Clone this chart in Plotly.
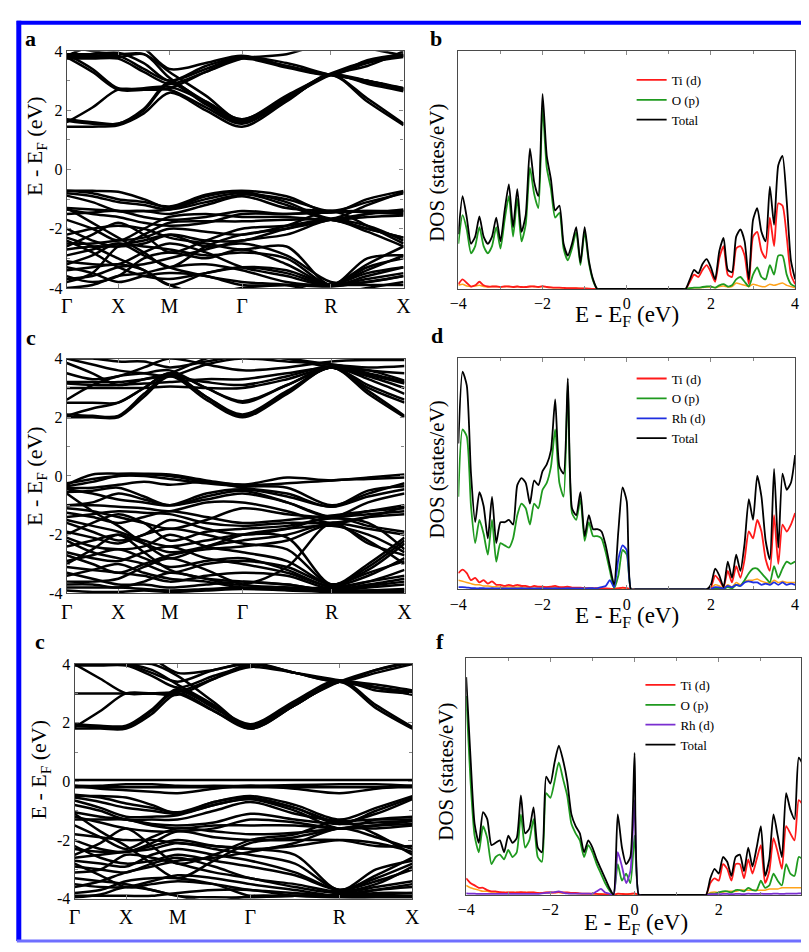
import plotly.graph_objects as go

W, H = 809, 952

# ---------------- band-structure data ----------------
K_POS = [0.0, 0.25, 0.5, 0.75, 1.0, 1.354, 1.707, 2.140, 2.573, 2.927, 3.280]
K_TICKS = [0.0, 0.5, 1.0, 1.707, 2.573, 3.280]
K_LABELS = ["Γ", "X", "M", "Γ", "R", "X"]

BANDS_A = [
    [1.45, 1.45, 1.5, 1.9, 2.6, 2.0, 1.45, 2.3, 3.2, 2.3, 1.5],
    [1.6, 2.1, 2.7, 2.7, 2.7, 2.1, 1.55, 2.35, 3.2, 2.9, 2.65],
    [1.65, 1.55, 1.55, 2.0, 2.9, 2.2, 1.6, 2.35, 3.2, 2.95, 2.75],
    [1.7, 1.6, 1.55, 2.05, 2.95, 2.25, 1.65, 2.4, 3.2, 2.4, 1.55],
    [3.8, 3.3, 2.7, 2.7, 2.75, 3.3, 3.75, 3.45, 3.2, 3.6, 3.8],
    [3.8, 3.8, 3.8, 3.9, 3.1, 2.3, 1.7, 2.45, 3.2, 3.0, 2.7],
    [3.9, 3.9, 3.95, 3.6, 3.0, 3.5, 3.8, 3.5, 3.2, 3.7, 3.9],
    [3.75, 3.75, 3.75, 3.3, 2.9, 3.3, 3.75, 3.9, 4.3, 4.1, 3.85],
    [4.2, 4.0, 3.9, 3.9, 3.3, 2.5, 1.65, 2.4, 3.2, 3.5, 4.0],
    [3.85, 4.2, 4.5, 4.1, 3.4, 3.6, 3.85, 3.5, 3.2, 3.0, 2.75],
    [3.85, 3.85, 3.85, 3.4, 3.0, 3.4, 3.8, 3.6, 3.2, 3.0, 2.7],
    [3.9, 3.4, 2.75, 2.75, 2.8, 2.3, 1.7, 2.5, 3.25, 3.65, 3.85],
    [-0.72, -0.8, -1.0, -1.1, -1.25, -0.85, -0.72, -0.9, -1.45, -1.0, -0.72],
    [-0.72, -0.72, -0.75, -1.0, -1.3, -0.9, -0.75, -1.1, -1.65, -1.2, -0.75],
    [-0.8, -0.9, -1.1, -1.2, -1.35, -1.1, -0.85, -1.0, -1.4, -1.1, -0.8],
    [-0.88, -1.1, -1.4, -1.4, -1.35, -1.0, -0.8, -1.2, -1.7, -1.5, -1.35],
    [-1.3, -1.35, -1.4, -1.4, -1.5, -1.2, -0.9, -1.3, -1.4, -1.4, -1.4],
    [-1.35, -1.5, -1.6, -1.8, -1.9, -1.8, -1.5, -1.5, -1.45, -1.4, -1.45],
    [-1.5, -1.45, -1.4, -1.6, -1.7, -1.6, -1.4, -1.5, -1.4, -1.45, -1.5],
    [-1.7, -2.0, -2.4, -2.0, -1.6, -1.5, -1.6, -1.6, -1.7, -1.6, -1.55],
    [-2.0, -2.4, -2.6, -2.2, -1.8, -1.75, -1.75, -1.7, -1.7, -2.0, -2.3],
    [-2.2, -2.0, -1.9, -2.0, -2.3, -2.5, -2.7, -2.6, -3.9, -3.0, -2.9],
    [-2.5, -2.5, -2.4, -2.3, -2.0, -2.1, -2.2, -1.9, -1.4, -1.9, -2.5],
    [-2.7, -2.6, -2.6, -2.5, -2.2, -2.4, -2.4, -2.0, -1.7, -2.1, -2.6],
    [-2.9, -2.7, -2.5, -2.6, -2.7, -2.9, -2.8, -3.0, -3.9, -3.3, -3.0],
    [-3.1, -3.2, -3.2, -2.8, -2.5, -2.8, -3.3, -3.6, -3.9, -3.2, -2.6],
    [-3.3, -3.5, -3.8, -3.6, -3.5, -3.6, -3.9, -3.9, -3.95, -3.8, -3.6],
    [-3.4, -3.3, -3.2, -3.4, -3.9, -3.5, -3.3, -3.5, -3.9, -3.4, -2.9],
    [-3.6, -3.8, -3.6, -3.0, -2.8, -3.0, -2.7, -3.2, -3.9, -3.6, -3.3],
    [-3.7, -3.6, -3.3, -3.2, -3.0, -2.7, -2.4, -2.2, -1.7, -1.9, -2.4],
    [-3.8, -3.5, -2.6, -2.4, -2.2, -2.6, -2.5, -2.9, -3.8, -3.8, -3.6],
    [-2.3, -2.6, -3.0, -3.4, -3.9, -4.2, -4.0, -3.9, -3.9, -3.9, -3.9],
    [-2.4, -2.8, -3.3, -3.6, -3.7, -3.5, -3.3, -3.4, -3.9, -3.7, -3.5],
    [-3.2, -2.9, -2.5, -2.9, -3.3, -3.6, -3.8, -3.9, -4.2, -4.0, -3.8],
    [-4.0, -3.9, -3.6, -3.5, -3.3, -3.2, -3.4, -3.8, -3.9, -3.5, -3.3],
    [-1.3, -1.8, -2.3, -2.8, -3.3, -2.6, -2.2, -2.0, -1.7, -1.5, -1.4],
    [-2.6, -2.2, -1.8, -2.2, -2.8, -2.4, -2.0, -1.9, -1.7, -2.0, -2.3],
]

BANDS_C = [
    [2.0, 2.0, 2.0, 2.7, 3.4, 2.6, 2.0, 2.8, 3.7, 2.8, 2.0],
    [2.05, 2.3, 2.5, 3.0, 3.5, 2.7, 2.05, 2.85, 3.7, 3.0, 2.5],
    [2.1, 2.05, 2.05, 2.8, 3.45, 2.7, 2.1, 2.9, 3.7, 2.9, 2.05],
    [2.5, 2.5, 2.5, 3.0, 3.5, 3.0, 2.5, 3.1, 3.7, 3.1, 2.6],
    [2.6, 3.1, 3.4, 3.5, 3.6, 3.0, 2.55, 3.1, 3.7, 3.3, 2.8],
    [3.0, 3.0, 3.0, 3.0, 3.05, 3.0, 3.0, 3.3, 3.7, 3.4, 3.0],
    [3.15, 3.1, 3.1, 3.15, 3.2, 3.3, 3.3, 3.5, 3.7, 3.45, 3.15],
    [3.2, 3.2, 3.2, 3.3, 3.4, 3.2, 3.1, 3.4, 3.75, 3.5, 3.2],
    [3.85, 3.5, 3.1, 3.3, 3.5, 4.0, 4.2, 4.0, 3.7, 3.6, 3.25],
    [4.0, 3.8, 3.6, 3.5, 3.4, 3.8, 4.0, 3.9, 3.8, 3.6, 3.5],
    [4.0, 4.0, 3.9, 3.9, 3.7, 3.9, 4.1, 4.0, 3.8, 3.7, 3.75],
    [3.5, 3.3, 3.4, 3.7, 4.0, 3.8, 3.6, 3.7, 3.9, 3.95, 3.95],
    [-0.3, 0.05, 0.08, 0.08, 0.05, -0.15, -0.3, -0.05, -0.15, -0.05, 0.05],
    [-0.25, -0.1, 0.0, 0.05, 0.0, -0.2, -0.3, -0.25, -0.15, -0.1, -0.05],
    [-0.35, -0.2, 0.0, 0.0, -0.1, -0.25, -0.35, -0.4, -1.0, -0.6, -0.25],
    [-0.4, -0.4, -0.3, -0.2, -0.3, -0.2, -0.4, -0.6, -1.05, -0.5, -0.35],
    [-0.45, -0.6, -0.8, -0.9, -1.0, -0.6, -0.45, -0.7, -1.05, -0.7, -0.45],
    [-0.55, -0.5, -0.4, -0.7, -1.0, -0.7, -0.5, -0.9, -1.4, -0.9, -0.6],
    [-1.0, -0.9, -0.6, -0.8, -1.0, -0.8, -0.6, -0.9, -1.4, -1.2, -1.0],
    [-1.0, -1.0, -1.05, -1.1, -1.2, -0.9, -0.9, -1.2, -1.6, -1.4, -1.05],
    [-1.1, -1.2, -1.4, -1.6, -1.8, -1.5, -1.1, -1.3, -1.4, -1.3, -1.2],
    [-1.25, -1.4, -1.6, -1.4, -1.2, -1.4, -1.6, -1.5, -1.35, -1.2, -1.1],
    [-1.4, -1.3, -1.2, -1.25, -1.3, -1.6, -1.7, -1.6, -1.6, -1.4, -1.3],
    [-1.5, -1.7, -1.9, -2.2, -2.4, -2.2, -2.0, -2.1, -3.7, -3.1, -2.2],
    [-1.6, -1.9, -2.2, -2.0, -1.5, -1.8, -2.0, -1.8, -1.4, -1.7, -1.9],
    [-1.9, -2.1, -2.3, -2.0, -1.8, -2.0, -2.3, -2.5, -3.7, -3.0, -2.1],
    [-2.1, -2.4, -2.5, -2.4, -2.0, -2.4, -2.6, -2.9, -3.7, -3.2, -2.3],
    [-2.2, -2.6, -2.8, -3.0, -3.3, -3.0, -2.9, -3.1, -3.7, -3.3, -2.9],
    [-2.4, -2.2, -2.0, -2.3, -2.6, -2.4, -2.0, -1.8, -1.7, -2.0, -2.6],
    [-2.6, -2.8, -2.9, -2.6, -2.4, -2.8, -3.0, -3.3, -3.75, -3.4, -2.8],
    [-2.7, -3.0, -3.3, -3.0, -2.7, -2.5, -2.4, -2.2, -1.65, -2.2, -3.0],
    [-2.9, -2.7, -2.5, -2.8, -3.1, -2.9, -2.8, -3.2, -3.8, -3.6, -3.2],
    [-3.1, -3.2, -3.3, -3.4, -3.6, -3.4, -3.3, -3.4, -3.85, -3.7, -3.5],
    [-3.3, -3.5, -3.7, -3.7, -3.8, -3.7, -3.6, -3.7, -3.9, -3.8, -3.7],
    [-3.4, -3.2, -3.0, -3.3, -3.5, -3.6, -3.8, -3.8, -3.8, -3.6, -3.4],
    [-3.6, -3.6, -3.5, -3.1, -2.8, -3.2, -3.7, -3.8, -3.95, -3.9, -3.85],
    [-3.7, -3.7, -3.8, -3.6, -3.3, -3.5, -3.6, -3.7, -3.9, -3.75, -3.6],
    [-3.8, -3.8, -3.8, -3.85, -3.9, -3.85, -3.8, -3.85, -3.9, -3.9, -3.9],
    [-3.9, -3.95, -3.95, -3.9, -3.95, -3.9, -3.85, -3.9, -3.95, -3.95, -3.95],
    [-0.6, -1.2, -1.7, -2.3, -2.8, -2.4, -2.2, -2.0, -1.6, -1.8, -2.0],
    [-2.0, -1.6, -1.3, -1.6, -2.2, -1.9, -1.8, -1.7, -1.45, -1.6, -2.5],
    [-3.0, -2.5, -2.0, -2.6, -3.2, -3.5, -3.7, -3.1, -1.6, -2.3, -2.7],
]

BANDS_E = [
    [1.8, 1.8, 1.8, 2.3, 3.0, 2.4, 1.8, 2.6, 3.4, 2.5, 1.8],
    [1.85, 2.4, 3.0, 3.0, 3.0, 2.4, 1.85, 2.6, 3.4, 3.1, 3.0],
    [1.9, 1.85, 1.85, 2.4, 3.1, 2.5, 1.9, 2.7, 3.4, 3.2, 3.0],
    [1.95, 1.9, 1.9, 2.45, 3.15, 2.55, 1.95, 2.75, 3.45, 2.6, 1.85],
    [3.0, 3.0, 3.0, 3.0, 3.05, 3.5, 3.9, 3.7, 3.45, 3.3, 3.1],
    [4.0, 3.5, 3.0, 3.0, 2.95, 3.5, 4.0, 3.7, 3.4, 3.7, 4.0],
    [4.0, 4.0, 4.0, 3.8, 3.3, 2.6, 1.8, 2.6, 3.4, 3.2, 2.95],
    [4.05, 4.0, 4.0, 3.7, 3.4, 3.8, 4.0, 3.7, 3.4, 3.8, 4.05],
    [3.95, 3.95, 3.95, 3.6, 3.2, 3.6, 3.95, 4.2, 4.4, 4.2, 4.0],
    [4.3, 4.1, 4.0, 4.0, 3.6, 2.7, 1.85, 2.65, 3.4, 3.8, 4.1],
    [4.1, 4.3, 4.5, 4.2, 3.7, 3.8, 4.05, 3.7, 3.4, 3.2, 3.05],
    [0.05, 0.05, 0.05, 0.05, 0.05, 0.05, 0.05, 0.05, 0.05, 0.05, 0.05],
    [-0.15, -0.15, -0.1, -0.1, -0.15, -0.15, -0.15, -0.12, -0.1, -0.1, -0.15],
    [-0.15, -0.25, -0.3, -0.35, -0.4, -0.25, -0.15, -0.25, -0.4, -0.25, -0.15],
    [-0.2, -0.2, -0.2, -0.2, -0.2, -0.2, -0.2, -0.2, -0.2, -0.2, -0.2],
    [-0.45, -0.55, -0.75, -0.9, -1.05, -0.7, -0.5, -0.8, -1.3, -0.9, -0.5],
    [-0.5, -0.5, -0.55, -0.8, -1.1, -0.7, -0.55, -0.9, -1.45, -1.0, -0.55],
    [-0.55, -0.7, -0.9, -1.0, -1.1, -0.8, -0.6, -0.9, -1.4, -1.1, -0.6],
    [-0.65, -0.9, -1.2, -1.2, -1.15, -0.8, -0.6, -1.0, -1.6, -1.3, -1.2],
    [-0.8, -1.0, -1.3, -1.3, -1.3, -1.0, -0.7, -1.1, -1.35, -1.3, -1.3],
    [-1.05, -1.2, -1.3, -1.45, -1.5, -1.4, -1.1, -1.3, -1.45, -1.4, -1.35],
    [-1.2, -1.4, -1.6, -1.7, -1.7, -1.6, -1.3, -1.4, -1.6, -1.5, -1.3],
    [-1.3, -1.3, -1.3, -1.5, -1.6, -1.5, -1.5, -1.5, -1.6, -1.5, -1.45],
    [-1.5, -1.9, -2.3, -1.9, -1.6, -1.7, -1.8, -1.75, -1.6, -1.6, -1.5],
    [-1.8, -1.9, -2.0, -2.0, -2.1, -2.2, -2.3, -2.5, -3.7, -3.0, -2.7],
    [-2.0, -2.3, -2.4, -2.1, -1.7, -1.9, -2.0, -2.0, -2.0, -2.2, -2.2],
    [-2.2, -2.6, -2.8, -2.7, -2.5, -2.7, -2.9, -3.2, -3.7, -3.4, -3.0],
    [-2.3, -2.4, -2.4, -2.2, -2.0, -2.2, -2.3, -2.2, -2.0, -2.1, -2.4],
    [-2.6, -2.5, -2.4, -2.3, -2.1, -2.3, -2.5, -2.8, -3.7, -3.2, -2.6],
    [-2.7, -2.8, -2.9, -2.5, -2.3, -2.5, -2.7, -3.1, -3.7, -3.3, -2.8],
    [-2.8, -3.2, -3.6, -3.5, -3.4, -3.5, -3.7, -3.8, -3.9, -3.7, -3.5],
    [-2.9, -3.0, -3.1, -2.8, -2.6, -2.9, -3.3, -3.5, -3.75, -3.5, -2.9],
    [-3.1, -3.0, -2.5, -2.6, -2.8, -3.1, -3.3, -3.6, -3.8, -3.6, -3.4],
    [-3.3, -3.4, -3.5, -3.7, -3.9, -4.1, -3.9, -3.9, -3.85, -3.7, -3.6],
    [-3.5, -3.6, -3.6, -3.4, -3.2, -3.3, -3.5, -3.7, -3.9, -3.8, -3.8],
    [-3.6, -3.4, -3.1, -2.9, -2.7, -2.6, -2.4, -2.1, -1.6, -1.9, -2.3],
    [-3.8, -3.7, -3.4, -3.3, -3.3, -3.5, -3.9, -3.9, -3.9, -3.9, -3.9],
    [-3.9, -3.9, -3.9, -3.9, -3.8, -3.7, -3.7, -3.9, -3.95, -3.95, -3.95],
    [-3.95, -3.85, -3.6, -3.7, -3.9, -3.95, -3.95, -3.9, -3.9, -3.85, -3.8],
    [-1.1, -1.7, -2.2, -2.8, -3.3, -2.7, -2.1, -1.9, -1.6, -1.5, -1.35],
    [-2.5, -2.1, -1.6, -2.2, -2.8, -2.5, -2.0, -1.8, -1.35, -1.8, -2.5],
]

# ---------------- DOS data (energy grid, eV) ----------------
ENERGY = [
    -4.0, -3.9, -3.8, -3.7, -3.6, -3.5, -3.4, -3.3, -3.2, -3.1,
    -3.0, -2.9, -2.8, -2.7, -2.6, -2.5, -2.4, -2.3, -2.2, -2.1,
    -2.0, -1.9, -1.8, -1.7, -1.6, -1.5, -1.4, -1.3, -1.2, -1.1,
    -1.0, -0.9, -0.8, -0.7, -0.6, -0.5, -0.4, -0.3, -0.2, -0.1,
    0.0, 0.1, 0.2, 0.3, 0.4, 0.5, 0.6, 0.7, 0.8, 0.9,
    1.0, 1.1, 1.2, 1.3, 1.4, 1.5, 1.6, 1.7, 1.8, 1.9,
    2.0, 2.1, 2.2, 2.3, 2.4, 2.5, 2.6, 2.7, 2.8, 2.9,
    3.0, 3.1, 3.2, 3.3, 3.4, 3.5, 3.6, 3.7, 3.8, 3.9,
    4.0,
]

TOT_B = [
    2.3, 3.9, 3.0, 1.9, 2.2, 3.05, 2.2, 1.9, 2.2, 3.0,
    2.0, 3.3, 4.4, 2.6, 4.2, 2.4, 3.1, 5.9, 4.5, 3.9,
    8.2, 5.6, 4.6, 3.3, 3.5, 1.9, 1.4, 1.9, 2.6, 1.1,
    2.6, 1.2, 0.4, 0.0, 0, 0, 0, 0, 0, 0,
    0, 0, 0, 0, 0, 0, 0, 0, 0, 0,
    0, 0, 0, 0, 0, 0.4, 0.8, 0.65, 1.05, 1.25,
    0.9, 0.4, 1.6, 2.15, 0.8, 0.7, 2.2, 2.5, 2.0, 0.4,
    2.9, 3.4, 2.4, 2.0, 4.3, 2.7, 5.2, 5.6, 3.7, 1.2,
    0.4,
]
O_B = [
    1.9, 3.1, 2.5, 1.5, 1.8, 2.6, 1.8, 1.5, 1.8, 2.6,
    1.7, 2.9, 3.9, 2.2, 3.8, 2.0, 2.7, 5.1, 4.0, 3.4,
    7.6, 5.1, 4.2, 3.0, 3.2, 1.7, 1.2, 1.7, 2.4, 1.0,
    2.4, 1.1, 0.35, 0.0, 0, 0, 0, 0, 0, 0,
    0, 0, 0, 0, 0, 0, 0, 0, 0, 0,
    0, 0, 0, 0, 0, 0.03, 0.05, 0.05, 0.08, 0.1,
    0.1, 0.05, 0.15, 0.2, 0.1, 0.15, 0.4, 0.5, 0.3, 0.1,
    0.6, 0.9, 0.5, 0.4, 1.0, 0.6, 1.4, 1.4, 0.6, 0.2,
    0.1,
]
TI_B = [
    0.2, 0.4, 0.25, 0.1, 0.15, 0.3, 0.15, 0.1, 0.1, 0.1,
    0.08, 0.1, 0.1, 0.08, 0.1, 0.08, 0.08, 0.1, 0.1, 0.08,
    0.12, 0.08, 0.06, 0.05, 0.05, 0.04, 0.03, 0.03, 0.03, 0.02,
    0.02, 0.01, 0.0, 0.0, 0, 0, 0, 0, 0, 0,
    0, 0, 0, 0, 0, 0, 0, 0, 0, 0,
    0, 0, 0, 0, 0, 0.3, 0.6, 0.5, 0.8, 1.0,
    0.7, 0.3, 1.3, 1.8, 0.6, 0.5, 1.7, 1.8, 1.4, 0.2,
    2.2, 2.4, 1.6, 1.3, 3.0, 1.8, 3.6, 3.5, 2.2, 0.6,
    0.2,
]
OTHER_B = [
    0.15, 0.2, 0.12, 0.1, 0.12, 0.15, 0.1, 0.08, 0.1, 0.1,
    0.08, 0.1, 0.1, 0.08, 0.1, 0.08, 0.08, 0.1, 0.1, 0.08,
    0.1, 0.08, 0.06, 0.05, 0.05, 0.04, 0.03, 0.03, 0.03, 0.02,
    0.02, 0.01, 0.0, 0.0, 0, 0, 0, 0, 0, 0,
    0, 0, 0, 0, 0, 0, 0, 0, 0, 0,
    0, 0, 0, 0, 0, 0.03, 0.05, 0.05, 0.06, 0.08,
    0.08, 0.05, 0.1, 0.12, 0.08, 0.1, 0.25, 0.2, 0.15, 0.1,
    0.2, 0.15, 0.1, 0.1, 0.2, 0.15, 0.2, 0.25, 0.15, 0.1,
    0.05,
]

TOT_D = [
    6.3, 9.4, 8.8, 5.0, 2.9, 4.2, 3.6, 2.2, 4.0, 2.0,
    2.9, 2.9, 3.0, 2.8, 4.5, 4.8, 4.6, 3.7, 4.7, 4.5,
    5.1, 5.4, 6.0, 8.2, 5.3, 5.0, 9.1, 3.5, 3.2, 4.2,
    2.3, 3.2, 2.6, 2.6, 2.5, 1.9, 1.0, 0.2, 2.5, 4.4,
    3.8, 0.0, 0, 0, 0, 0, 0, 0, 0, 0,
    0, 0, 0, 0, 0, 0, 0, 0, 0, 0,
    0.2, 0.9, 0.6, 0.1, 1.2, 0.5, 1.5, 0.8, 2.0, 3.9,
    3.0, 4.9, 4.0, 2.1, 1.3, 5.2, 1.8, 5.0, 4.3, 4.6,
    5.8,
]
O_D = [
    4.0, 6.9, 6.6, 3.6, 2.0, 3.0, 2.4, 1.5, 3.0, 1.2,
    2.0, 1.9, 1.8, 2.2, 3.2, 3.7, 3.5, 2.8, 3.7, 3.5,
    4.3, 4.6, 5.3, 6.9, 4.6, 4.0, 8.8, 3.3, 3.0, 3.9,
    2.1, 2.9, 2.3, 2.3, 2.2, 1.6, 0.8, 0.05, 0.6, 1.7,
    1.5, 0.0, 0, 0, 0, 0, 0, 0, 0, 0,
    0, 0, 0, 0, 0, 0, 0, 0, 0, 0,
    0.0, 0.05, 0.05, 0.02, 0.1, 0.05, 0.2, 0.15, 0.4, 0.7,
    0.9, 0.9, 0.7, 0.5, 0.3, 1.0, 0.5, 0.9, 1.2, 1.1,
    1.2,
]
TI_D = [
    0.7, 0.85, 0.7, 0.4, 0.5, 0.3, 0.4, 0.25, 0.35, 0.2,
    0.2, 0.15, 0.2, 0.15, 0.2, 0.15, 0.15, 0.1, 0.15, 0.12,
    0.12, 0.1, 0.12, 0.15, 0.1, 0.1, 0.12, 0.08, 0.08, 0.08,
    0.06, 0.06, 0.05, 0.05, 0.04, 0.04, 0.03, 0.02, 0.05, 0.08,
    0.06, 0.0, 0, 0, 0, 0, 0, 0, 0, 0,
    0, 0, 0, 0, 0, 0, 0, 0, 0, 0,
    0.1, 0.6, 0.4, 0.1, 0.8, 0.3, 1.0, 0.5, 1.3, 2.5,
    2.2, 3.0, 2.5, 1.3, 0.8, 3.2, 1.1, 2.8, 2.5, 2.8,
    3.3,
]
RH_D = [
    0.1, 0.1, 0.08, 0.06, 0.05, 0.05, 0.05, 0.04, 0.05, 0.04,
    0.04, 0.04, 0.04, 0.04, 0.04, 0.05, 0.04, 0.04, 0.04, 0.04,
    0.04, 0.04, 0.04, 0.05, 0.04, 0.04, 0.05, 0.04, 0.04, 0.04,
    0.04, 0.05, 0.05, 0.05, 0.1, 0.15, 0.4, 0.1, 1.3, 1.9,
    1.7, 0.0, 0, 0, 0, 0, 0, 0, 0, 0,
    0, 0, 0, 0, 0, 0, 0, 0, 0, 0,
    0.02, 0.1, 0.08, 0.05, 0.15, 0.1, 0.2, 0.15, 0.3, 0.35,
    0.3, 0.3, 0.2, 0.25, 0.2, 0.3, 0.2, 0.3, 0.2, 0.25,
    0.2,
]
OTHER_D = [
    0.4, 0.35, 0.3, 0.25, 0.2, 0.2, 0.15, 0.15, 0.12, 0.12,
    0.1, 0.1, 0.12, 0.1, 0.1, 0.12, 0.1, 0.1, 0.12, 0.1,
    0.1, 0.1, 0.08, 0.1, 0.08, 0.08, 0.1, 0.06, 0.06, 0.06,
    0.05, 0.05, 0.04, 0.04, 0.04, 0.03, 0.03, 0.02, 0.05, 0.06,
    0.05, 0.0, 0, 0, 0, 0, 0, 0, 0, 0,
    0, 0, 0, 0, 0, 0, 0, 0, 0, 0,
    0.05, 0.2, 0.15, 0.05, 0.2, 0.1, 0.3, 0.2, 0.35, 0.4,
    0.4, 0.45, 0.35, 0.3, 0.25, 0.4, 0.3, 0.35, 0.3, 0.3,
    0.3,
]

TOT_F = [
    9.2, 5.9, 3.0, 2.2, 3.5, 3.2, 2.1, 2.2, 2.3, 1.8,
    2.5, 2.2, 2.4, 4.2, 2.6, 2.8, 3.7, 2.0, 1.8, 5.0,
    4.7, 5.6, 6.3, 5.7, 4.8, 3.4, 2.9, 2.6, 1.8, 2.3,
    2.0, 1.5, 1.1, 0.7, 0.3, 0.0, 3.4, 2.0, 1.3, 1.6,
    6.0, 0.0, 0, 0, 0, 0, 0, 0, 0, 0,
    0, 0, 0, 0, 0, 0, 0, 0.0, 0.7, 1.1,
    0.9, 1.6, 1.4, 0.8, 1.6, 1.7, 1.0, 2.0, 1.2, 2.0,
    2.9, 0.8, 1.5, 3.4, 2.5, 1.6, 4.3, 3.6, 3.2, 5.8,
    5.5,
]
O_F = [
    8.4, 4.9, 2.5, 1.8, 2.9, 2.4, 1.3, 1.6, 1.7, 1.5,
    1.9, 1.6, 1.8, 3.4, 2.0, 2.3, 3.2, 1.6, 1.4, 4.3,
    4.1, 4.8, 5.6, 4.9, 4.2, 3.0, 2.6, 2.3, 1.6, 2.1,
    1.8, 1.3, 0.9, 0.5, 0.2, 0.0, 1.3, 0.6, 0.9, 0.5,
    2.5, 0.0, 0, 0, 0, 0, 0, 0, 0, 0,
    0, 0, 0, 0, 0, 0, 0, 0.0, 0.05, 0.05,
    0.1, 0.15, 0.15, 0.1, 0.2, 0.2, 0.15, 0.3, 0.2, 0.2,
    0.6, 0.3, 0.4, 0.9, 0.6, 0.4, 1.3, 0.9, 0.8, 1.6,
    1.5,
]
TI_F = [
    0.7, 0.5, 0.4, 0.3, 0.3, 0.2, 0.15, 0.15, 0.12, 0.1,
    0.1, 0.1, 0.1, 0.12, 0.1, 0.1, 0.1, 0.08, 0.08, 0.1,
    0.1, 0.1, 0.12, 0.1, 0.1, 0.08, 0.08, 0.06, 0.05, 0.05,
    0.05, 0.04, 0.03, 0.02, 0.02, 0.0, 0.05, 0.04, 0.03, 0.04,
    0.06, 0.0, 0, 0, 0, 0, 0, 0, 0, 0,
    0, 0, 0, 0, 0, 0, 0, 0.0, 0.5, 0.7,
    0.6, 1.3, 1.1, 0.6, 1.3, 1.3, 0.7, 1.5, 0.9, 1.5,
    2.1, 0.5, 1.0, 2.4, 1.8, 1.1, 2.9, 2.6, 2.3, 4.0,
    3.8,
]
RH_F = [
    0.06, 0.05, 0.05, 0.04, 0.04, 0.04, 0.04, 0.04, 0.04, 0.04,
    0.04, 0.04, 0.04, 0.04, 0.04, 0.04, 0.04, 0.04, 0.06, 0.08,
    0.1, 0.12, 0.15, 0.1, 0.06, 0.05, 0.05, 0.05, 0.05, 0.05,
    0.05, 0.15, 0.25, 0.1, 0.05, 0.0, 1.8, 1.2, 0.5, 1.0,
    4.0, 0.0, 0, 0, 0, 0, 0, 0, 0, 0,
    0, 0, 0, 0, 0, 0, 0, 0.0, 0.03, 0.03,
    0.03, 0.04, 0.04, 0.03, 0.04, 0.04, 0.03, 0.05, 0.04, 0.04,
    0.05, 0.04, 0.04, 0.05, 0.05, 0.04, 0.05, 0.05, 0.05, 0.06,
    0.06,
]
OTHER_F = [
    0.4, 0.3, 0.25, 0.2, 0.15, 0.15, 0.12, 0.12, 0.1, 0.1,
    0.1, 0.1, 0.1, 0.1, 0.1, 0.1, 0.1, 0.08, 0.08, 0.1,
    0.1, 0.1, 0.1, 0.08, 0.08, 0.06, 0.06, 0.05, 0.05, 0.05,
    0.05, 0.04, 0.04, 0.03, 0.02, 0.0, 0.05, 0.04, 0.03, 0.04,
    0.05, 0.0, 0, 0, 0, 0, 0, 0, 0, 0,
    0, 0, 0, 0, 0, 0, 0, 0.0, 0.1, 0.12,
    0.1, 0.12, 0.15, 0.15, 0.15, 0.2, 0.2, 0.2, 0.2, 0.2,
    0.2, 0.2, 0.25, 0.25, 0.25, 0.3, 0.3, 0.3, 0.3, 0.3,
    0.3,
]

for arr in [TOT_B, O_B, TI_B, OTHER_B, TOT_D, O_D, TI_D, RH_D, OTHER_D,
            TOT_F, O_F, TI_F, RH_F, OTHER_F]:
    assert len(arr) == len(ENERGY)

# ---------------- layout helpers ----------------
SERIF = "Liberation Serif"
FRAME = "#4a4a4a"


def fx(p):
    return p / W


def fy(p):
    return 1 - p / H


# panel boxes in pixels: (x0, x1, ytop, ybottom)
BOX = {
    1: (59, 403, 44, 285),   # a
    2: (459, 803, 44, 286),  # b
    3: (59, 404, 357, 596),  # c
    4: (459, 803, 356, 592),  # d
    5: (67, 412, 668, 907),  # e
    6: (467, 809, 662, 903),  # f
}

fig = go.Figure()

# band structures
for idx, bands in [(1, BANDS_A), (3, BANDS_C), (5, BANDS_E)]:
    for b in bands:
        fig.add_trace(go.Scatter(
            x=K_POS, y=b, mode="lines",
            line=dict(color="black", width=2.5, shape="spline", smoothing=0.9),
            xaxis=f"x{idx}", yaxis=f"y{idx}", showlegend=False, hoverinfo="skip"))

# DOS
RED, GREEN, BLUE, PURPLE, ORANGE = "#ff1a1a", "#1f9a1f", "#1f2fe0", "#7a2fd0", "#ffa31a"


def dos(idx, yvals, color, name=None, legend=None, width=1.8):
    fig.add_trace(go.Scatter(
        x=ENERGY, y=yvals, mode="lines", name=name,
        line=dict(color=color, width=width, shape="spline", smoothing=0.6),
        xaxis=f"x{idx}", yaxis=f"y{idx}", hoverinfo="skip",
        showlegend=name is not None, legend=legend))


dos(2, OTHER_B, ORANGE, width=1.5)
dos(2, TI_B, RED, "Ti (d)", "legend")
dos(2, O_B, GREEN, "O (p)", "legend")
dos(2, TOT_B, "black", "Total", "legend")

dos(4, OTHER_D, ORANGE, width=1.5)
dos(4, TI_D, RED, "Ti (d)", "legend2")
dos(4, O_D, GREEN, "O (p)", "legend2")
dos(4, RH_D, BLUE, "Rh (d)", "legend2")
dos(4, TOT_D, "black", "Total", "legend2")

dos(6, OTHER_F, ORANGE, width=1.5)
dos(6, TI_F, RED, "Ti (d)", "legend3")
dos(6, O_F, GREEN, "O (p)", "legend3")
dos(6, RH_F, PURPLE, "Rh (d)", "legend3")
dos(6, TOT_F, "black", "Total", "legend3")

layout = dict(
    width=W, height=H, autosize=False,
    margin=dict(l=0, r=0, t=0, b=0),
    paper_bgcolor="white", plot_bgcolor="white",
    font=dict(family=SERIF, color="black"),
)

for idx, (x0, x1, yt, yb) in BOX.items():
    xa = dict(domain=[fx(x0), min(fx(x1), 1.0)], anchor=f"y{idx}",
              showline=True, linecolor=FRAME, linewidth=1.3, mirror="ticks",
              ticks="inside", ticklen=4, tickcolor="#888", showgrid=False,
              zeroline=False, tickfont=dict(family=SERIF, size=16))
    ya = dict(domain=[fy(yb), fy(yt)], anchor=f"x{idx}",
              showline=True, linecolor=FRAME, linewidth=1.3, mirror="ticks",
              showgrid=False, zeroline=False, tickfont=dict(family=SERIF, size=16))
    if idx in (1, 3, 5):
        xa.update(range=[0, K_POS[-1]], tickvals=K_TICKS, ticktext=K_LABELS,
                  tickfont=dict(family=SERIF, size=20))
        ya.update(range=[-4, 4], tickvals=[-4, -2, 0, 2, 4],
                  ticktext=["-4", "-2", "0", "2", "4"],
                  ticks="inside", ticklen=4, tickcolor="#888",
                  minor=dict(dtick=1, ticks="inside", ticklen=3, tickcolor="#888"))
    else:
        xr = [-4, 4] if idx != 6 else [-4, -4 + 8 * (809 - 467) / 344]
        xa.update(range=xr, tickvals=[-4, -2, 0, 2, 4],
                  minor=dict(dtick=1, ticks="inside", ticklen=3, tickcolor="#888"))
        ya.update(range=[0, 10], showticklabels=False, ticks="")
    key = "" if idx == 1 else str(idx)
    layout[f"xaxis{key}"] = xa
    layout[f"yaxis{key}"] = ya


def leg(x_px, y_px):
    return dict(x=fx(x_px), y=fy(y_px), xanchor="left", yanchor="top",
                bgcolor="rgba(0,0,0,0)", borderwidth=0,
                font=dict(family=SERIF, size=13), tracegroupgap=0,
                itemwidth=30)


layout["legend"] = leg(636, 58)
layout["legend2"] = leg(636, 362)
layout["legend3"] = leg(645, 674)

fig.update_layout(**layout)

ann = []


def text(x, y, s, size, bold=False, angle=0):
    ann.append(dict(x=fx(x), y=fy(y), xref="paper", yref="paper",
                    text=(f"<b>{s}</b>" if bold else s),
                    showarrow=False, textangle=angle, xanchor="center", yanchor="middle",
                    font=dict(family=SERIF, size=size, color="black")))


text(22, 31, "a", 22, True)
text(436, 31, "b", 22, True)
text(22, 335, "c", 22, True)
text(437, 333, "d", 22, True)
text(32, 645, "c", 22, True)
text(440, 645, "f", 22, True)

ylab = "E - E<sub>F</sub> (eV)"
text(27, 140, ylab, 22, angle=-90)
text(27, 476, ylab, 22, angle=-90)
text(32, 775, ylab, 22, angle=-90)

dlab = "DOS (states/eV)"
text(437, 168, dlab, 21, angle=-90)
text(437, 470, dlab, 21, angle=-90)
text(447, 778, dlab, 21, angle=-90)

text(631, 314, ylab, 23)
text(631, 620, ylab, 23)
text(640, 933, ylab, 23)

fig.update_layout(annotations=ann)

fig.update_layout(shapes=[
    dict(type="line", xref="paper", yref="paper", x0=fx(10), x1=fx(10), y0=fy(13), y1=fy(950),
         line=dict(color="#0000ff", width=5)),
    dict(type="line", xref="paper", yref="paper", x0=fx(8), x1=1.0, y0=fy(15), y1=fy(15),
         line=dict(color="#0000ff", width=4)),
    dict(type="line", xref="paper", yref="paper", x0=fx(8), x1=1.0, y0=fy(950), y1=fy(950),
         line=dict(color="#6f6fff", width=3)),
])

fig.write_html("out.html")
